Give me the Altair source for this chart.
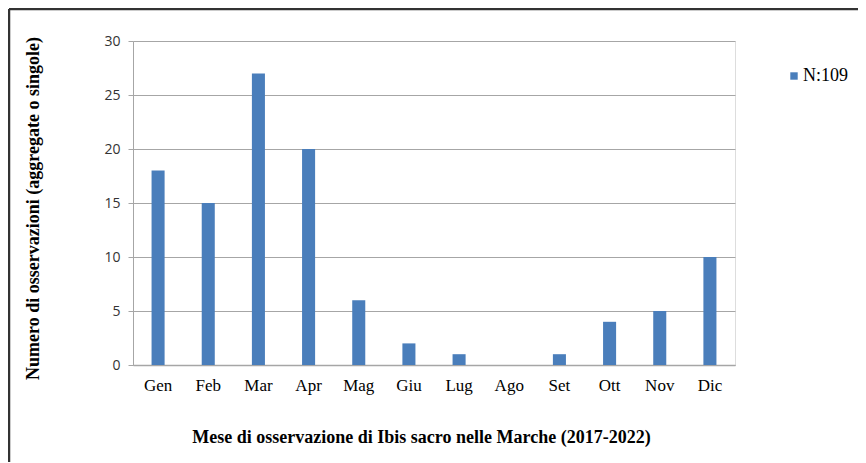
import altair as alt
import pandas as pd

months = ["Gen", "Feb", "Mar", "Apr", "Mag", "Giu", "Lug", "Ago", "Set", "Ott", "Nov", "Dic"]
counts = [18, 15, 27, 20, 6, 2, 1, 0, 1, 4, 5, 10]
series_label = "N:109"

df = pd.DataFrame({"mese": months, "n": counts, "serie": [series_label] * len(months)})

W, H = 602, 324
PAD = {"left": 125, "top": 33, "right": 123, "bottom": 97}

serif = "Liberation Serif"
sans = "Open Sans"
grid_col = "#a6a6a6"

bars = alt.Chart(df).mark_bar(color="#4A7EBB").encode(
    x=alt.X(
        "mese:N",
        sort=months,
        scale=alt.Scale(paddingInner=0.74, paddingOuter=0.37),
        axis=alt.Axis(
            title="Mese di osservazione di Ibis sacro nelle Marche (2017-2022)",
            titleFont=serif, titleFontSize=18, titleFontWeight="bold", titleColor="#000",
            titleX=288, titleY=72, titleBaseline="middle", titleAlign="center",
            labelFont=serif, labelFontSize=17, labelColor="#000", labelPadding=12,
            labelAngle=0, ticks=False, domainColor=grid_col, domainWidth=1.5,
        ),
    ),
    y=alt.Y(
        "n:Q",
        scale=alt.Scale(domain=[0, 30]),
        axis=alt.Axis(
            values=[0, 5, 10, 15, 20, 25, 30],
            title="Numero di osservazioni (aggregate o singole)",
            titleFont=serif, titleFontSize=18, titleFontWeight="bold", titleColor="#000",
            titleX=-100, titleY=167, titleAlign="center", titleBaseline="middle", titleAngle=-90,
            labelFont=sans, labelFontSize=14, labelColor="#333", labelPadding=8,
            tickSize=5, tickColor=grid_col, domainColor=grid_col,
            grid=True, gridColor=grid_col, gridWidth=1,
        ),
    ),
    fill=alt.Fill(
        "serie:N",
        scale=alt.Scale(range=["#4A7EBB"]),
        legend=alt.Legend(
            title=None, orient="none", legendX=652, legendY=26,
            symbolType="square", symbolSize=55, symbolStrokeWidth=0,
            labelFont=serif, labelFontSize=18, labelColor="#000", labelOffset=0,
        ),
    ),
)

one = pd.DataFrame({"a": [0]})
frame_top = alt.Chart(one).mark_rule(color="#333", strokeWidth=2.5).encode(
    x=alt.value(-124), x2=alt.value(W + 130), y=alt.value(-32)
)
frame_left = alt.Chart(one).mark_rule(color="#333", strokeWidth=2.5).encode(
    x=alt.value(-124), y=alt.value(-32), y2=alt.value(H + 110)
)

chart = alt.layer(bars, frame_top, frame_left).properties(
    width=W, height=H,
    autosize=alt.AutoSizeParams(type="none"),
    padding=PAD,
).configure_view(stroke=None).configure(background="white")

chart.save("out.html", embed_options={"renderer": "svg", "actions": False})
